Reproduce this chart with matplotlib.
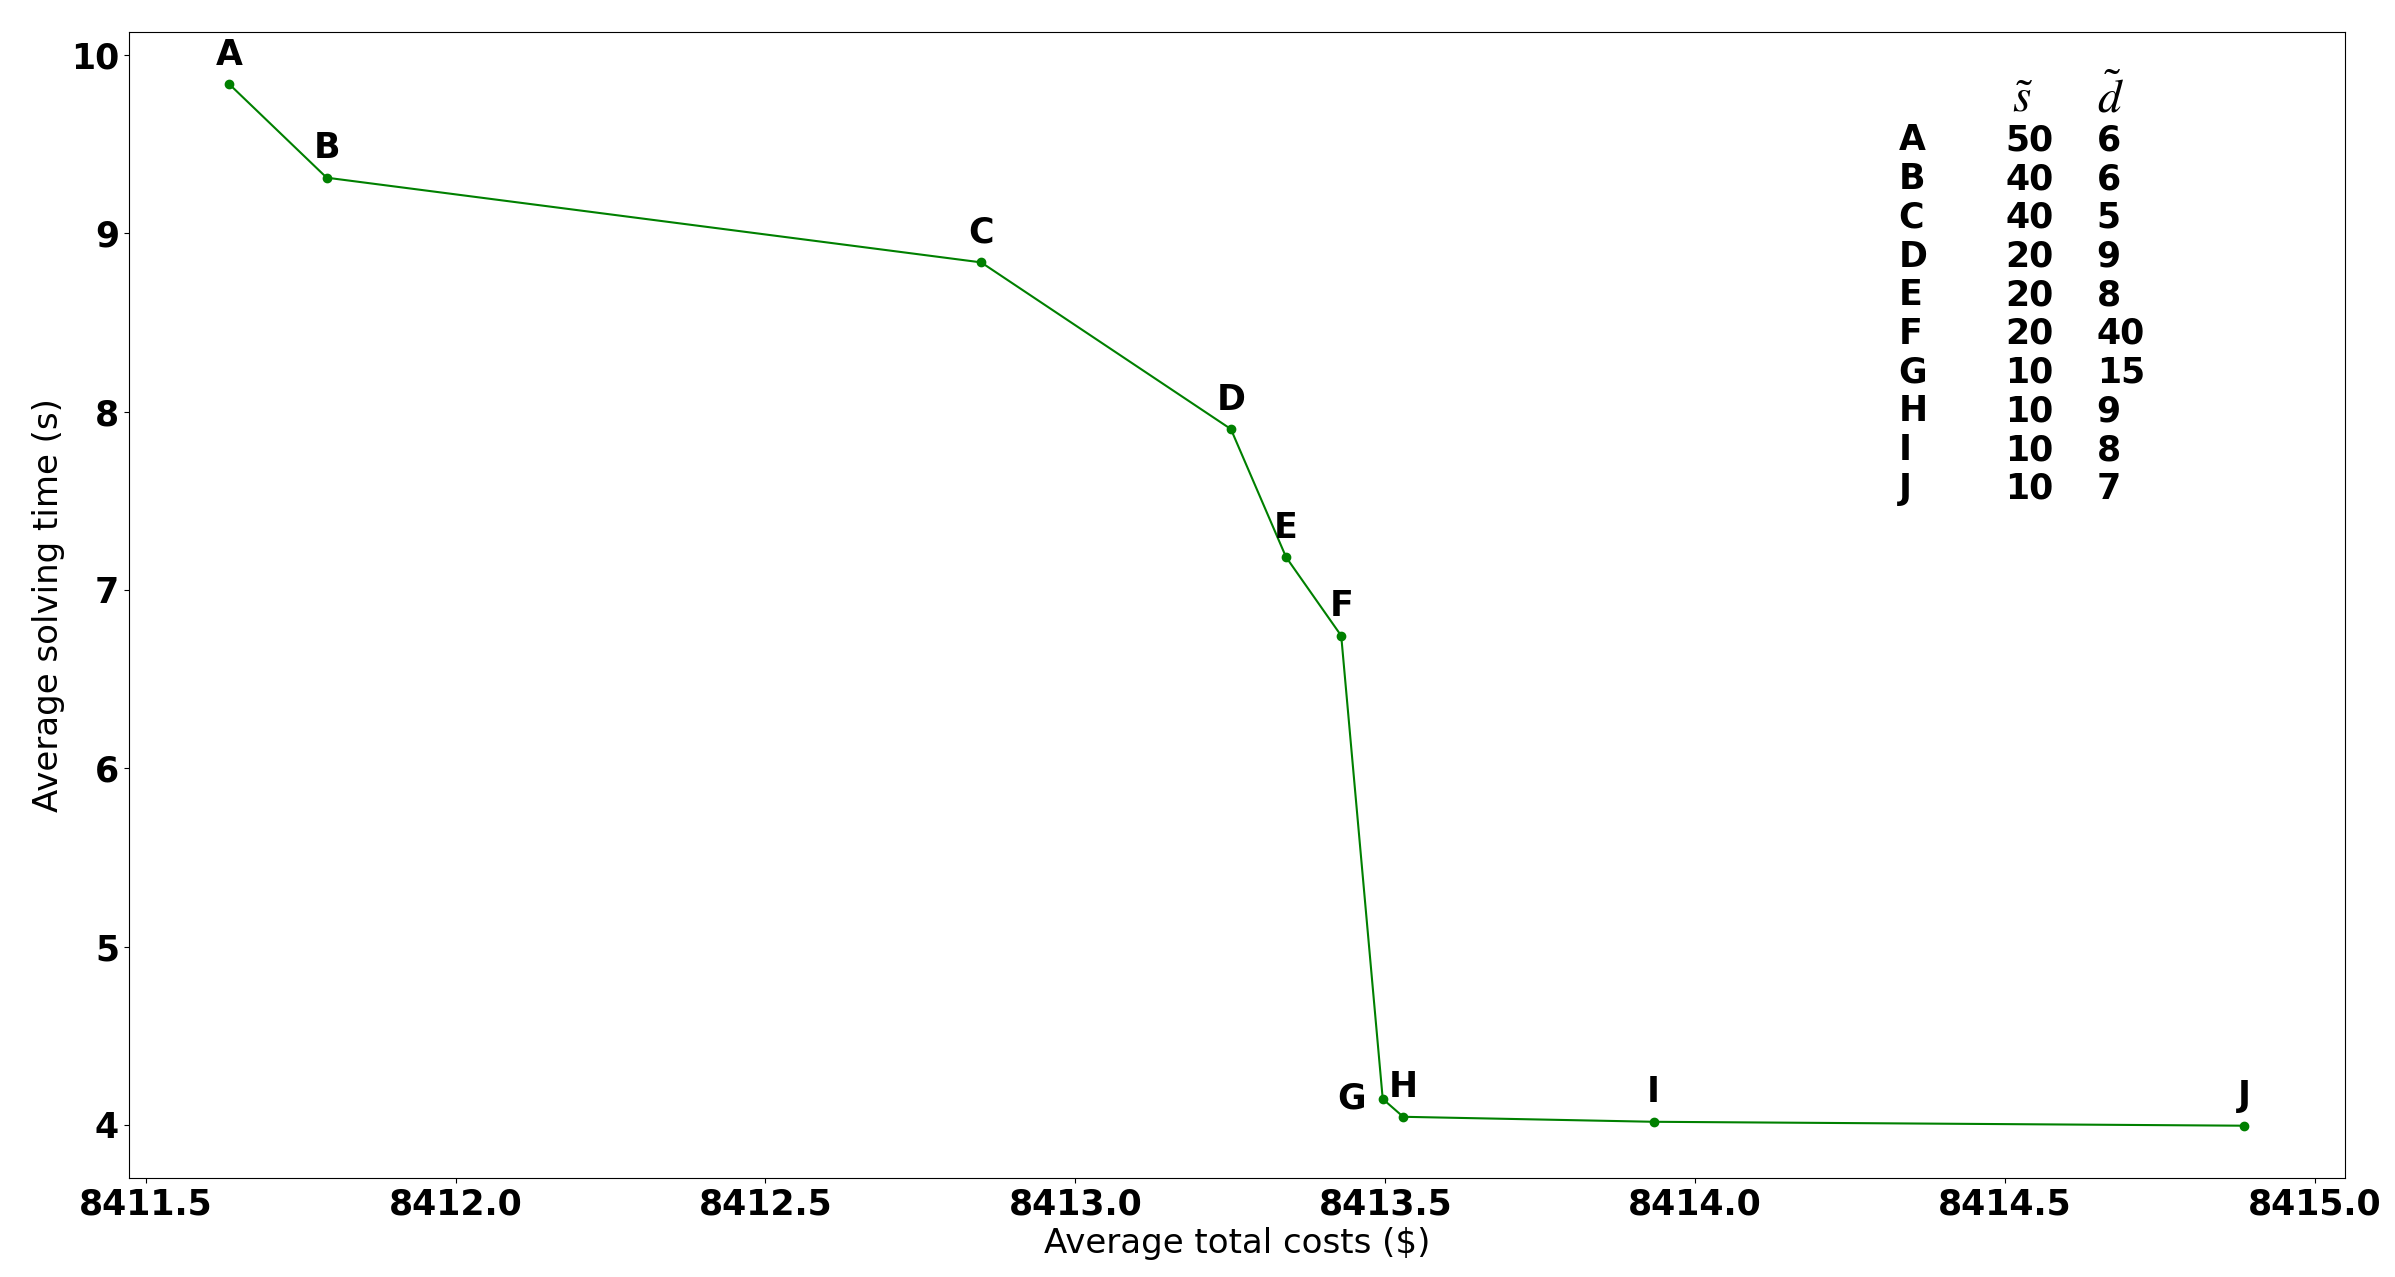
import numpy as np
import matplotlib.pyplot as plt

# Pareto points: average total cost vs average solving time
labels = ['A', 'B', 'C', 'D', 'E', 'F', 'G', 'H', 'I', 'J']
costs = [8411.635, 8411.792, 8412.848, 8413.251, 8413.340, 8413.429,
         8413.496, 8413.529, 8413.933, 8414.886]
times = [9.836, 9.312, 8.837, 7.902, 7.184, 6.743, 4.145, 4.045, 4.017, 3.995]

# parameter table shown in the upper right
s_vals = [50, 40, 40, 20, 20, 20, 10, 10, 10, 10]
d_vals = [6, 6, 5, 9, 8, 40, 15, 9, 8, 7]

plt.rcParams['mathtext.fontset'] = 'stix'

fig = plt.figure(figsize=(23.95, 12.77), dpi=100)
ax = fig.add_axes([0.0537, 0.0777, 0.9791 - 0.0537, 0.9748 - 0.0777])

ax.plot(costs, times, color='green', marker='o', linewidth=1.5, markersize=6)

for lab, x, y in zip(labels, costs, times):
    if lab == 'G':
        ax.annotate(lab, (x, y), xytext=(-12, 0), textcoords='offset points',
                    ha='right', va='center', fontsize=25, fontweight='bold')
    else:
        ax.annotate(lab, (x, y), xytext=(0, 9), textcoords='offset points',
                    ha='center', va='bottom', fontsize=25, fontweight='bold')

# table
col_x = [0.7986, 0.8468, 0.888]
row_top = 0.9055
row_step = (0.9055 - 0.6014) / 9
ax.text(col_x[1] + 0.003, 0.9417, r'$\tilde{s}$', transform=ax.transAxes,
        ha='left', va='center', fontsize=34)
ax.text(col_x[2], 0.9417, r'$\tilde{d}$', transform=ax.transAxes,
        ha='left', va='center', fontsize=34)
for i, (lab, s, d) in enumerate(zip(labels, s_vals, d_vals)):
    yy = row_top - i * row_step
    for cx, txt in zip(col_x, [lab, str(s), str(d)]):
        ax.text(cx, yy, txt, transform=ax.transAxes, ha='left', va='center',
                fontsize=25, fontweight='bold')

ax.set_xlabel('Average total costs ($)', fontsize=24.5)
ax.set_ylabel('Average solving time (s)', fontsize=24.5)
ax.set_xticks([8411.5, 8412.0, 8412.5, 8413.0, 8413.5, 8414.0, 8414.5, 8415.0])
ax.set_yticks([4, 5, 6, 7, 8, 9, 10])
ax.ticklabel_format(axis='x', useOffset=False, style='plain')
for t in ax.get_xticklabels() + ax.get_yticklabels():
    t.set_fontsize(25)
    t.set_fontweight('bold')

fig.savefig('out.png', dpi=100)
